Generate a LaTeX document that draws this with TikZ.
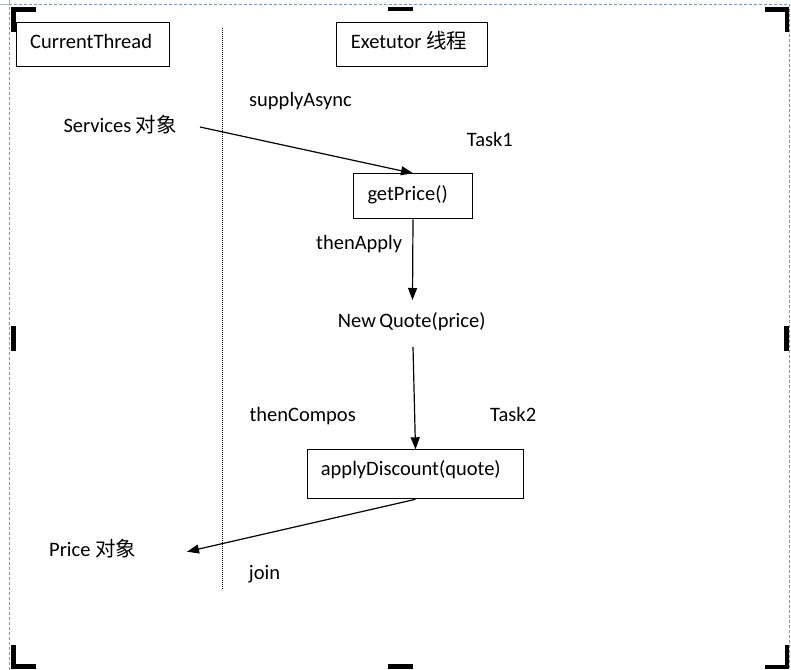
\documentclass[tikz,border=0pt]{standalone}
\usepackage{fontspec}
\setmainfont{Carlito}
\newfontfamily\cjk{Noto Sans CJK SC}
\usetikzlibrary{arrows.meta}
\begin{document}
\begin{tikzpicture}[x=1pt,y=-1pt,
  lbl/.style={anchor=base west, inner sep=0pt, font=\fontsize{20.5}{24}\selectfont},
  boxn/.style={draw, line width=1pt, inner sep=0pt, anchor=north west},
  arr/.style={line width=1.2pt, -{Triangle[length=12pt,width=9pt]}},
  handle/.style={fill=black, draw=none}
]
\useasboundingbox (0,0) rectangle (791,669);
\fill[white] (0,0) rectangle (791,669);

% outer frame (canvas selection)
\draw[black!30, line width=0.8pt] (0,4.5) -- (9.5,4.5) -- (9.5,0);
\draw[draw={rgb,255:red,110;green,155;blue,215}, line width=0.9pt, dash pattern=on 3pt off 2pt]
  (9.5,675) -- (9.5,4.5) -- (789,4.5) -- (789,675);

% handles
\fill[handle] (11,7.3) rectangle (36,11.7);
\fill[handle] (11,7.3) rectangle (16,32);
\fill[handle] (388,7.3) rectangle (413,11.5);
\fill[handle] (765,7.3) rectangle (789,12);
\fill[handle] (784.5,7.3) rectangle (789,32);
\fill[handle] (11,326) rectangle (16,351);
\fill[handle] (784,326) rectangle (789,351);
\fill[handle] (11,644.5) rectangle (16,669);
\fill[handle] (11,664) rectangle (36,669);
\fill[handle] (388.3,664) rectangle (413.3,669);
\fill[handle] (785,645) rectangle (789,669);
\fill[handle] (765,665) rectangle (789,669);

% lifeline separator
\coordinate (sepTop) at (222.5,28);
\coordinate (sepBot) at (222.5,590);
\draw[line width=1pt, dash pattern=on 1pt off 1pt] (sepTop) -- (sepBot);

% header boxes
\node[boxn, minimum width=152.4pt, minimum height=43.7pt] (ctbox) at (16.3,22.3) {};
\node[lbl] (ct) at (30,48.3) {CurrentThread};
\node[boxn, minimum width=151pt, minimum height=43.7pt] (exbox) at (336.3,22.3) {};
\node[lbl] (ex) at (350.7,48.3) {Exetutor {\cjk 线程}};

% task boxes
\node[boxn, minimum width=118.4pt, minimum height=45pt] (gp) at (353.3,173.3) {};
\node[lbl] (gptxt) at (367.3,200) {getPrice()};
\node[boxn, minimum width=216.6pt, minimum height=49pt] (ad) at (306.7,449.3) {};
\node[lbl] (adtxt) at (320.7,475) {applyDiscount(quote)};

% labels
\node[lbl] (sa) at (249,106.7) {supplyAsync};
\node[lbl] (svc) at (63.3,132.3) {Services {\cjk 对象}};
\node[lbl] (t1) at (466.7,146.7) {Task1};
\node[lbl] (ta) at (316,249.3) {thenApply};
\node[lbl] (nq) at (337.7,327.3) {New\,Quote(price)};
\node[lbl] (tc) at (249.3,421.7) {thenCompos};
\node[lbl] (t2) at (490,421.7) {Task2};
\node[lbl] (pr) at (49,556.7) {Price {\cjk 对象}};
\node[lbl] (jn) at (248.7,579) {join};

% arrow end points
\coordinate (svcOut) at (200,127);
\coordinate (nqIn) at (412.5,300);
\coordinate (nqOut) at (413,347);
\coordinate (prIn) at (187,551.7);

\draw[arr] (svcOut) -- (gp.north);
\draw[arr] (gp.south) -- (nqIn);
\draw[arr] (nqOut) -- (ad.north);
\draw[arr] (ad.south) -- (prIn);
\end{tikzpicture}
\end{document}
